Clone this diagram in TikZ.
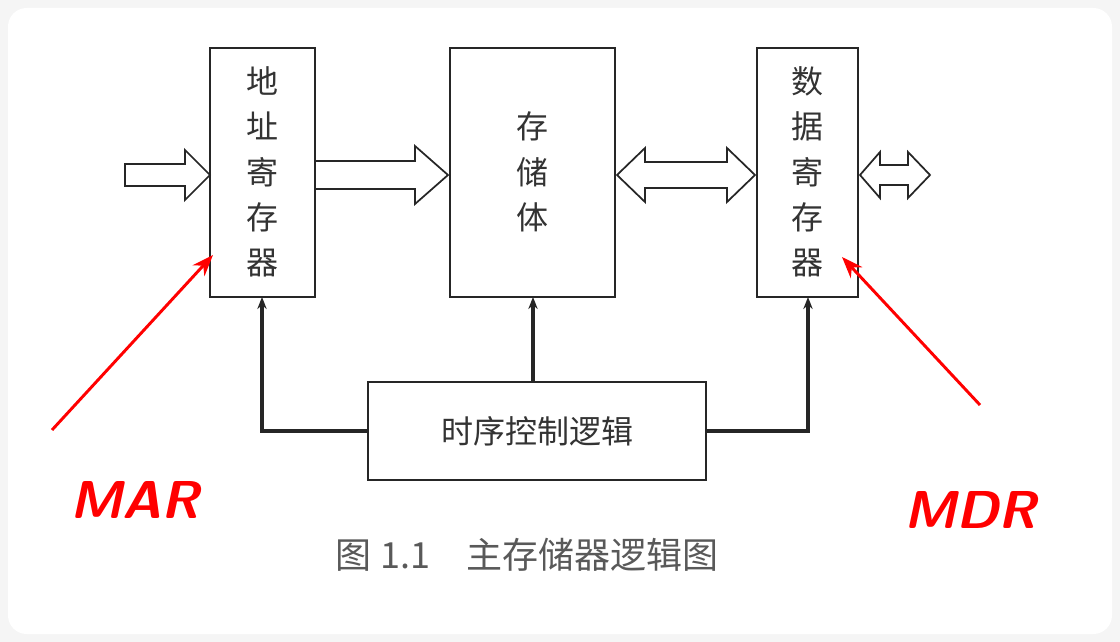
\documentclass[tikz,border=0pt]{standalone}
\usepackage{fontspec}
\newfontfamily\cjk{Noto Sans CJK SC}
\usetikzlibrary{arrows.meta}
\begin{document}
\begin{tikzpicture}[x=0.75pt,y=-0.75pt,
  box/.style={draw=black!85,line width=1.3pt},
  ctl/.style={line width=2.4pt,black!85,-{Stealth[length=9pt,width=7pt]}},
  hol/.style={draw=black!85,line width=1.3pt,fill=white},
  lbl/.style={font=\cjk\fontsize{24}{34}\selectfont,align=center,text=black!80},
  red/.style={draw=red,line width=2.2pt,-{Stealth[length=16pt,width=12pt]}}]
\useasboundingbox (0,0) rectangle (1120,642);
\fill[black!4] (0,0) rectangle (1120,642);
\fill[white,rounded corners=14pt] (8,8) rectangle (1112,634);
% boxes
\draw[box] (210,48) rectangle (315,297); \node[lbl] (mar) at (262.5,172) {地\\址\\寄\\存\\器};
\draw[box] (450,48) rectangle (615,297); \node[lbl] (mem) at (532.5,172) {存\\储\\体};
\draw[box] (757,48) rectangle (858,297); \node[lbl] (mdr) at (807.5,172) {数\\据\\寄\\存\\器};
\draw[box] (368,382) rectangle (706,480); \node[lbl] (tim) at (537,431) {时序控制逻辑};
\coordinate (marb) at (262,297); \coordinate (memb) at (533,297); \coordinate (mdrb) at (808,297);
% hollow arrows
\draw[hol] (125,164)--(185,164)--(185,150)--(210,175)--(185,200)--(185,186)--(125,186)--cycle;
\draw[hol] (315,161)--(415,161)--(415,146)--(448,175)--(415,204)--(415,189)--(315,189)--cycle;
\draw[hol] (617,175)--(645,148)--(645,162)--(727,162)--(727,148)--(755,175)--(727,202)--(727,188)--(645,188)--(645,202)--cycle;
\draw[hol] (860,175)--(880,152)--(880,165)--(908,165)--(908,152)--(930,175)--(908,198)--(908,185)--(880,185)--(880,198)--cycle;
% control lines
\draw[ctl] (368,431) -| (marb);
\draw[ctl] (533,382) -- (memb);
\draw[ctl] (706,431) -| (mdrb);
% caption
\node[font=\cjk\fontsize{27}{30}\selectfont,text=black!65] (cap) at (527,555) {图 1.1\quad 主存储器逻辑图};
% annotations
\coordinate (a1) at (52,430); \coordinate (a2) at (213,255);
\coordinate (b1) at (980,405); \coordinate (b2) at (842,257);
\draw[red] (a1) -- (a2);
\draw[red] (b1) -- (b2);
\node[text=red,font=\sffamily\bfseries\itshape\fontsize{40}{40}\selectfont] (m1) at (135,500) {MAR};
\node[text=red,font=\sffamily\bfseries\itshape\fontsize{40}{40}\selectfont] (m2) at (970,510) {MDR};
\end{tikzpicture}
\end{document}
